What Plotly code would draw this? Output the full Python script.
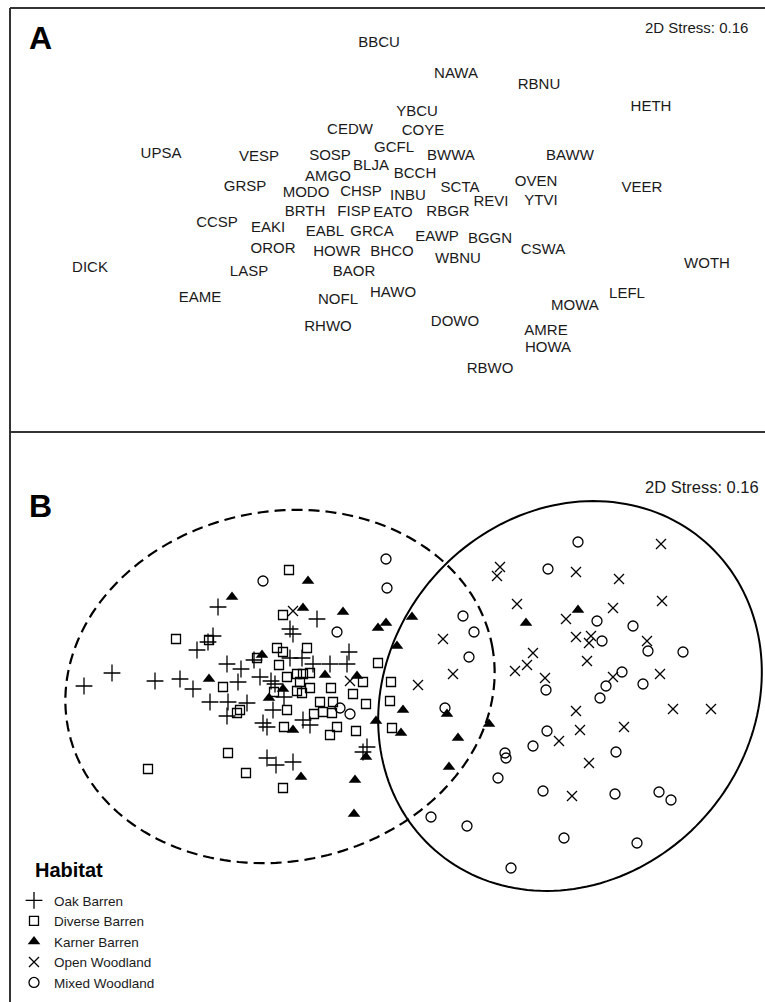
import math
import plotly.graph_objects as go

# ---------------- Panel A: species labels (positions, page-pixel units) -------------
species = ["BBCU","NAWA","RBNU","HETH","YBCU","CEDW","COYE","UPSA","VESP","SOSP","GCFL","BWWA","BAWW",
           "GRSP","AMGO","BLJA","BCCH","MODO","CHSP","INBU","SCTA","OVEN","VEER","BRTH","FISP","EATO",
           "RBGR","REVI","YTVI","CCSP","EAKI","EABL","GRCA","EAWP","BGGN","OROR","HOWR","BHCO","WBNU",
           "CSWA","DICK","LASP","BAOR","WOTH","EAME","NOFL","HAWO","LEFL","MOWA","DOWO","RHWO","AMRE",
           "HOWA","RBWO"]
species_x = [379,456,539,651,417,350,423,161,259,330,394,451,570,
             245,328,371,415,306,361,408,460,536,642,305,354,393,
             448,491,541,217,268,325,372,437,490,273,337,392,458,
             543,90,249,354,707,200,338,393,627,575,455,328,546,
             548,490]
species_y = [43,74,85,107,112,130,131,154,157,156,148,156,156,
             187,177,166,174,193,192,196,188,182,188,212,212,213,
             212,202,201,223,228,232,232,237,239,249,252,252,259,
             250,268,272,272,264,298,300,293,294,306,322,327,331,
             348,369]

# ---------------- Panel B: sample scores by habitat (page-pixel units) -------------
oak_x = [218,317,290,293,213,208,197,349,227,241,254,290,302,313,330,347,112,84,155,180,193,238,260,
         271,275,284,210,228,247,227,273,263,267,303,310,367,363,267,276,293]
oak_y = [607,619,629,634,636,642,650,652,664,669,660,658,658,664,664,664,673,686,681,679,689,682,677,
         681,684,697,702,702,703,716,710,723,727,720,725,747,752,758,765,762]

diverse_x = [289,283,176,209,277,283,307,257,279,378,223,287,297,303,310,300,310,297,302,274,331,363,391,
             353,366,390,320,333,323,332,314,237,240,287,284,337,330,356,392,228,148,246,283]
diverse_y = [570,615,639,640,648,652,648,658,665,663,687,677,674,674,673,682,688,691,693,692,688,682,682,
             694,704,701,702,702,712,713,714,713,710,710,727,727,735,731,728,753,769,773,788]

karner_x = [308,232,303,343,378,386,412,397,262,209,283,269,325,357,403,401,376,293,366,301,355,354,
            447,458,489,449,526,578]
karner_y = [581,597,608,612,628,623,617,646,655,679,689,698,675,676,710,733,721,730,757,777,780,814,
            714,738,724,767,623,610]

open_x = [293,350,418,661,576,619,500,497,662,517,566,613,443,576,591,589,647,533,527,515,587,453,
          545,613,660,576,673,711,559,580,624,589,572]
open_y = [611,681,685,544,572,579,567,576,601,604,619,608,639,637,636,643,641,653,665,671,661,674,
          678,677,674,711,709,709,741,730,727,763,796]

mixed_x = [263,386,387,337,340,350,578,548,597,633,463,474,602,648,683,469,622,606,600,546,643,445,
           547,533,505,506,616,498,543,615,659,671,431,467,564,637,511]
mixed_y = [581,559,588,632,708,714,542,569,621,626,616,632,641,651,652,657,672,686,698,690,684,708,
           731,746,753,758,752,778,791,794,792,800,817,826,838,843,868]

# group ellipses: centre x, centre y, semi-major, semi-minor, rotation (deg, page coords)
barren_ellipse = (280, 686.5, 216, 175, -11)
woodland_ellipse = (570, 696, 205, 181, -48.7)

FONT = "Liberation Sans, Arial, sans-serif"
W, H = 765, 1002


def ellipse_path(cx, cy, a, b, ang_deg, n=180):
    t = math.radians(ang_deg)
    pts = []
    for i in range(n + 1):
        s = 2 * math.pi * i / n
        x = cx + a * math.cos(s) * math.cos(t) - b * math.sin(s) * math.sin(t)
        y = cy + a * math.cos(s) * math.sin(t) + b * math.sin(s) * math.cos(t)
        pts.append((x, y))
    return "M " + " L ".join(f"{x:.2f},{y:.2f}" for x, y in pts) + " Z"


fig = go.Figure()

fig.add_trace(go.Scatter(x=species_x, y=species_y, text=species, mode="text",
                         textfont=dict(family=FONT, size=15, color="#1a1a1a"),
                         showlegend=False, hoverinfo="text"))

groups = [
    ("Oak Barren", oak_x, oak_y, dict(symbol="cross-thin-open", size=12, color="black",
                                       line=dict(width=1.3, color="black"))),
    ("Diverse Barren", diverse_x, diverse_y, dict(symbol="square-open", size=9, color="black",
                                                   line=dict(width=1.3, color="black"))),
    ("Karner Barren", karner_x, karner_y, dict(symbol="triangle-up", size=11, color="black",
                                                line=dict(width=0, color="black"))),
    ("Open Woodland", open_x, open_y, dict(symbol="x-thin-open", size=10, color="black",
                                            line=dict(width=1.3, color="black"))),
    ("Mixed Woodland", mixed_x, mixed_y, dict(symbol="circle-open", size=10, color="black",
                                               line=dict(width=1.3, color="black"))),
]
for name, xs, ys, mk in groups:
    fig.add_trace(go.Scatter(x=xs, y=ys, mode="markers", name=name, marker=mk))

shapes = [
    dict(type="line", xref="x", yref="y", x0=10, x1=765, y0=8, y1=8, line=dict(color="#333", width=2)),
    dict(type="line", xref="x", yref="y", x0=10, x1=10, y0=8, y1=1002, line=dict(color="#333", width=2)),
    dict(type="line", xref="x", yref="y", x0=10, x1=765, y0=432, y1=432, line=dict(color="#333", width=2)),
    dict(type="path", xref="x", yref="y", path=ellipse_path(*barren_ellipse),
         line=dict(color="black", width=2.2, dash="11px,6px")),
    dict(type="path", xref="x", yref="y", path=ellipse_path(*woodland_ellipse),
         line=dict(color="black", width=2)),
]

annotations = [
    dict(x=40, y=38, text="<b>A</b>", font=dict(family=FONT, size=32, color="black")),
    dict(x=40, y=506, text="<b>B</b>", font=dict(family=FONT, size=32, color="black")),
    dict(x=696, y=27, text="2D Stress: 0.16", font=dict(family=FONT, size=15, color="#1a1a1a")),
    dict(x=702, y=487, text="2D Stress: 0.16", font=dict(family=FONT, size=16.5, color="#1a1a1a")),
    dict(x=33, y=870, text="<b>Habitat</b>", xanchor="left", font=dict(family=FONT, size=20, color="black")),
]
for a in annotations:
    a.update(xref="x", yref="y", showarrow=False)
    a.setdefault("xanchor", "center")
    a["yanchor"] = "middle"

fig.update_layout(
    width=W, height=H,
    margin=dict(l=0, r=0, t=0, b=0),
    paper_bgcolor="white", plot_bgcolor="white",
    xaxis=dict(range=[0, W], visible=False, fixedrange=True),
    yaxis=dict(range=[H, 0], visible=False, fixedrange=True),
    shapes=shapes, annotations=annotations,
    showlegend=True,
    legend=dict(x=14 / W, xanchor="left", y=1 - 885 / H, yanchor="top",
                font=dict(family=FONT, size=13.5, color="#1a1a1a"),
                bgcolor="rgba(0,0,0,0)", itemsizing="trace", tracegroupgap=0),
)

fig.write_html("out.html", config={"displayModeBar": False},
               post_script="document.body.style.margin='0';")
